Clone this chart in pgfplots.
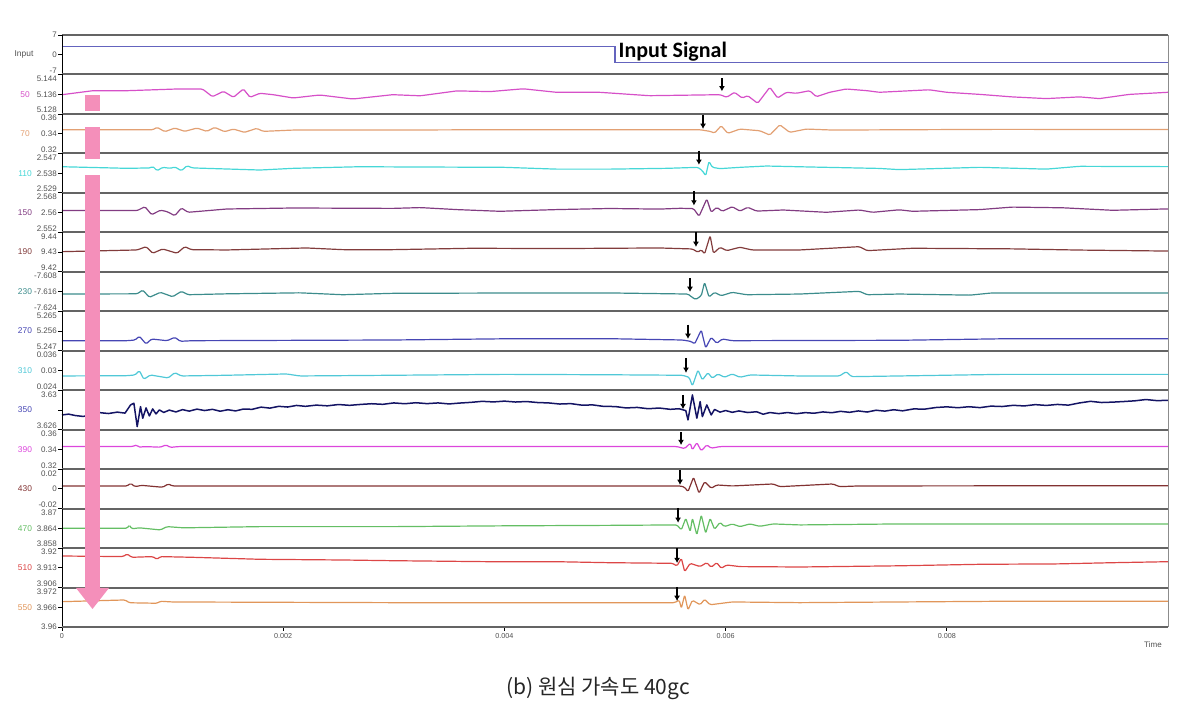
\documentclass[border=0pt]{standalone}
\usepackage{pgfplots}
\pgfplotsset{compat=1.18}
\usepackage{pgfplotstable}
\usetikzlibrary{arrows.meta}
\usepackage{fontspec}
\setmainfont{Liberation Sans}
\newfontfamily\cjk{Noto Sans CJK KR}
\newfontfamily\carl{Carlito}

\definecolor{cIn}{RGB}{100,100,190}
\definecolor{cA}{RGB}{214,80,200}
\definecolor{cB}{RGB}{226,160,115}
\definecolor{cC}{RGB}{70,215,215}
\definecolor{cD}{RGB}{130,60,130}
\definecolor{cE}{RGB}{130,60,60}
\definecolor{cF}{RGB}{60,140,140}
\definecolor{cG}{RGB}{70,70,180}
\definecolor{cH}{RGB}{80,200,215}
\definecolor{cI}{RGB}{20,20,100}
\definecolor{cJ}{RGB}{220,70,220}
\definecolor{cK}{RGB}{130,50,50}
\definecolor{cL}{RGB}{100,190,100}
\definecolor{cM}{RGB}{220,70,70}
\definecolor{cN}{RGB}{225,150,90}
\definecolor{pinkarrow}{RGB}{244,143,186}
\definecolor{sepgray}{RGB}{100,100,100}
\definecolor{labgray}{RGB}{80,80,80}

\newcommand\tl[1]{\raisebox{-3.45pt}[0pt][0pt]{#1}}
\newcommand\ml[1]{\raisebox{-1.45pt}[0pt][0pt]{#1}}
\newcommand\bl[1]{\raisebox{0.55pt}[0pt][0pt]{#1}}

\newcommand\panelframe{%
  \draw[sepgray, line width=1pt] (rel axis cs:0,1) -- (rel axis cs:1,1);
  \draw[black, line width=0.4pt] (rel axis cs:0,0) -- (rel axis cs:0,1);
  \draw[black!45, line width=0.5pt] (rel axis cs:1,0) -- (rel axis cs:1,1);}
\newcommand\marker[3]{\draw[-{Latex[length=2.6pt,width=3pt]}, line width=0.6pt] (rel axis cs:#1,#2) -- (rel axis cs:#1,#3);}
\newcommand\chan[2]{\node[text=#1, font=\fontsize{4.2}{5}\selectfont, xshift=-18.5pt] at (rel axis cs:0,0.5) {#2};}

\pgfplotsset{
  panel/.style={
    scale only axis, width=553pt, height=19.7333pt, anchor=north west,
    xmin=0, xmax=0.01, clip=false,
    axis line style={draw=none},
    xtick=\empty, ytick pos=left, tick align=outside,
    major tick length=1.8pt,
    tick style={black, line width=0.4pt},
    yticklabel style={font=\fontsize{4}{4}\selectfont, text=labgray, inner sep=0.6pt},
    scaled y ticks=false, scaled x ticks=false,
  },
  sig/.style={line width=0.6pt, line join=round, rounded corners=0.7pt},
}

\pgfplotstableread{
t v
0 2.8
5.0 2.8
5.0 -2.8
10 -2.8
}\tIn

\pgfplotstableread{
t d
0 -0.5
0.28 3.5
0.59 3.5
1.04 5.2
1.27 5.2
1.36 -2.5
1.46 2.9
1.55 -3.1
1.64 5.2
1.70 -3.1
1.79 0.9
1.91 -0.5
2.09 -3.8
2.33 -0.8
2.63 -4.8
2.99 -0.5
3.24 -1.6
3.57 3.3
3.87 2.6
4.17 5.4
4.47 1.9
4.86 1.9
5.31 -1.5
5.95 -0.5
6.01 -3.1
6.08 1.9
6.15 -3.8
6.20 -1.5
6.29 -9.1
6.40 6.9
6.47 -3.8
6.55 1.9
6.64 0.9
6.76 3.5
6.82 -2.5
6.94 1.9
7.09 5.2
7.28 3.5
7.39 1.9
7.84 4.4
8.00 1.9
8.30 -0.2
8.59 -2.7
8.90 -4.4
9.20 -2.7
9.38 -4.4
9.65 -0.2
10.00 1.9
}\tA

\pgfplotstableread{
t d
0 3.9
0.82 3.9
0.86 6.3
0.93 2.0
1.02 5.6
1.11 2.3
1.22 5.6
1.31 2.3
1.38 6.3
1.47 2.0
1.55 4.6
1.65 1.3
1.76 5.3
1.82 2.3
2.09 3.6
2.99 3.6
4.00 4.0
5.47 3.9
5.77 3.9
5.86 2.3
5.90 0.6
5.96 7.9
6.02 0.3
6.13 4.6
6.31 2.9
6.40 -1.4
6.49 8.9
6.58 1.3
6.73 4.6
6.97 3.6
7.57 3.9
8.50 4.3
10.00 4.1
}\tB

\pgfplotstableread{
t d
0 6.4
0.59 4.8
0.80 5.2
0.82 6.8
0.86 2.4
0.91 5.8
0.98 4.8
1.02 6.2
1.08 2.4
1.13 7.4
1.18 5.2
1.79 3.1
2.09 4.8
2.69 6.4
3.05 6.2
4.00 5.8
4.47 4.0
4.95 4.0
5.47 4.8
5.75 5.8
5.79 2.4
5.82 -2.6
5.85 11.8
5.88 5.8
5.95 4.5
6.13 5.8
6.37 7.1
6.82 6.0
7.39 4.7
7.57 3.5
8.30 5.8
8.90 4.0
9.20 6.8
10.00 6.5
}\tC

\pgfplotstableread{
t d
0 2.0
0.68 2.0
0.75 5.9
0.81 -2.1
0.89 2.4
0.95 1.0
1.02 -3.1
1.08 4.6
1.14 0.3
1.49 3.6
2.09 4.6
2.99 4.2
3.24 5.0
3.57 3.0
3.96 1.3
4.47 3.0
4.95 4.1
5.40 3.5
5.59 4.3
5.71 4.0
5.76 -3.7
5.83 13.6
5.87 0.3
5.92 5.3
5.97 1.3
6.06 5.9
6.13 1.5
6.20 5.3
6.28 1.5
6.52 2.6
6.91 0.3
7.21 2.6
7.33 0.3
7.57 2.8
7.69 1.3
8.30 3.0
8.59 5.5
9.05 4.8
9.50 2.3
10.00 3.7
}\tD

\pgfplotstableread{
t d
0 0.4
0.68 2.1
0.76 5.4
0.82 -1.2
0.91 3.1
1.04 -1.2
1.11 5.4
1.17 2.4
1.49 2.1
2.21 4.1
2.54 2.4
2.99 2.4
3.71 3.8
4.47 3.5
4.95 3.8
5.40 4.1
5.70 3.1
5.75 -0.2
5.78 2.4
5.81 -1.9
5.86 16.4
5.89 -1.2
5.95 4.8
6.01 1.4
6.13 4.8
6.24 2.1
6.67 2.1
7.21 5.4
7.28 1.4
7.57 3.1
7.69 3.8
8.59 3.2
9.20 2.0
10.00 1.0
}\tE

\pgfplotstableread{
t d
0 -2.5
0.68 -2.3
0.73 1.5
0.79 -5.8
0.89 -0.8
1.00 -5.2
1.08 0.2
1.14 -3.2
1.49 -2.3
2.15 -1.3
2.54 -3.2
2.99 -1.8
4.00 -1.5
5.00 -1.5
5.66 -2.5
5.69 -5.2
5.73 -8.0
5.78 -4.2
5.81 9.2
5.85 -5.5
5.90 -0.8
5.96 -4.2
6.06 -0.8
6.19 -3.2
6.67 -2.5
7.21 0.2
7.28 -3.2
7.57 -2.5
8.21 -3.6
8.40 -1.5
10.00 -1.5
}\tF

\pgfplotstableread{
t d
0 -9.7
0.59 -9.7
0.66 -9.0
0.70 -5.3
0.76 -13.0
0.81 -8.0
0.95 -9.7
1.02 -6.3
1.07 -10.3
1.18 -9.7
2.99 -9.0
4.00 -7.8
5.00 -7.8
5.61 -9.0
5.69 -10.5
5.72 -13.0
5.78 1.0
5.82 -17.0
5.87 -6.3
5.92 -12.3
5.97 -8.0
6.06 -9.7
7.57 -9.3
8.50 -7.8
10.00 -7.8
}\tG

\pgfplotstableread{
t d
0 -5.5
0.59 -5.2
0.66 -4.5
0.70 -0.2
0.74 -8.8
0.80 -4.5
0.89 -6.2
0.96 -7.5
1.02 -2.2
1.08 -5.5
1.49 -4.8
2.03 -3.5
2.15 -5.5
2.99 -4.8
4.00 -3.9
4.95 -4.3
5.61 -4.8
5.67 -6.8
5.70 -15.5
5.75 0.5
5.79 -9.5
5.84 -2.2
5.88 -7.8
5.93 -3.5
5.99 -6.8
6.06 -3.5
6.13 -6.8
6.22 -4.5
6.67 -5.5
7.03 -5.5
7.09 -1.2
7.14 -6.2
7.57 -5.5
8.50 -3.9
10.00 -3.9
}\tH

\pgfplotstableread{
t d
0.00 -5.0
0.06 -4.2
0.12 -5.6
0.19 -6.5
0.26 -5.2
0.34 -2.7
0.42 -3.6
0.50 -2.2
0.57 -3.2
0.62 5.0
0.65 6.7
0.68 -16.7
0.71 3.3
0.73 -8.3
0.76 2.0
0.79 -6.0
0.82 1.0
0.85 -4.0
0.88 0.0
0.92 -2.5
0.97 -0.2
1.03 -2.0
1.09 0.3
1.15 -1.2
1.22 0.8
1.29 -0.6
1.36 0.6
1.43 -1.3
1.50 0.2
1.57 -1.0
1.64 0.9
1.72 0.6
1.80 2.8
1.88 1.8
1.96 3.6
2.04 2.9
2.12 4.5
2.20 3.6
2.30 4.8
2.40 4.1
2.50 5.4
2.60 4.6
2.70 5.5
2.80 6.2
2.90 5.6
3.00 7.0
3.10 6.2
3.20 7.2
3.30 6.3
3.40 7.0
3.50 6.0
3.60 6.9
3.70 7.6
3.80 8.6
3.90 8.0
4.00 8.8
4.10 7.9
4.20 8.4
4.30 7.4
4.40 7.0
4.50 5.9
4.60 6.3
4.70 4.8
4.80 5.0
4.90 3.5
5.00 3.4
5.10 2.0
5.20 2.5
5.30 1.2
5.40 1.9
5.50 0.6
5.58 1.2
5.64 -0.7
5.66 -10.0
5.70 15.0
5.74 -8.3
5.77 8.3
5.79 -6.7
5.83 5.0
5.87 -5.0
5.90 0.5
5.95 -2.2
6.00 -0.6
6.06 -2.4
6.12 -1.0
6.20 -2.6
6.28 -1.8
6.34 -4.3
6.40 -2.6
6.48 -3.7
6.56 -2.6
6.64 -3.8
6.72 -2.7
6.80 -3.3
6.88 -2.0
6.96 -2.8
7.04 -1.4
7.12 -2.4
7.20 -1.0
7.28 -2.1
7.36 -0.3
7.44 -1.2
7.52 0.2
7.60 -0.9
7.70 1.0
7.80 0.8
7.90 2.4
8.00 3.1
8.10 2.2
8.20 3.2
8.30 2.3
8.40 3.8
8.50 3.4
8.60 4.6
8.70 4.0
8.80 5.3
8.90 4.5
9.00 5.5
9.10 4.8
9.20 7.0
9.30 8.6
9.40 7.4
9.50 7.8
9.60 8.4
9.70 9.1
9.80 10.4
9.90 9.3
10.00 9.6
}\tI

\pgfplotstableread{
t d
0 2.8
0.63 2.8
0.68 4.5
0.69 2.2
0.75 2.8
0.89 2.2
0.94 4.5
0.98 2.0
1.05 2.8
5.56 2.8
5.63 0.8
5.68 6.2
5.70 -0.5
5.74 6.8
5.78 -1.5
5.83 4.5
5.87 1.2
5.95 2.8
10.00 2.8
}\tJ

\pgfplotstableread{
t d
0 2.9
0.59 2.9
0.62 5.6
0.66 2.2
0.72 3.5
0.91 1.6
0.96 4.9
1.00 2.9
5.59 2.9
5.63 1.6
5.66 -2.8
5.71 11.6
5.76 -4.4
5.81 7.2
5.87 0.6
5.92 3.9
6.06 2.9
6.43 4.9
6.49 2.2
6.97 4.9
7.03 2.2
7.20 2.9
10.00 3.2
}\tK

\pgfplotstableread{
t d
0 0.1
0.59 0.1
0.61 3.4
0.63 -0.5
0.70 0.5
0.89 -1.6
0.95 1.7
1.10 0.5
1.79 1.7
3.00 1.7
4.00 2.5
5.00 3.0
5.56 3.4
5.60 -1.6
5.64 10.1
5.68 -3.3
5.70 10.1
5.74 -6.6
5.78 13.4
5.82 -5.0
5.86 10.1
5.90 -1.0
5.95 6.0
5.99 1.7
6.06 4.4
6.13 1.7
6.22 4.4
6.31 2.0
6.43 4.4
6.67 3.4
7.57 4.4
10.00 4.4
}\tL

\pgfplotstableread{
t d
0 11.8
0.55 11.2
0.59 13.8
0.63 10.5
0.82 11.2
0.86 8.5
0.89 11.2
1.18 10.5
1.79 8.5
2.54 7.8
2.99 7.1
3.87 6.1
4.47 6.1
4.95 5.1
5.52 4.5
5.56 1.8
5.60 9.5
5.63 -3.9
5.68 4.5
5.77 1.2
5.83 5.2
5.87 0.5
5.92 5.2
5.96 -0.5
6.01 2.8
6.13 1.2
6.67 0.8
7.57 2.0
8.30 3.5
9.00 3.9
9.50 5.1
10.00 6.1
}\tM

\pgfplotstableread{
t d
0 5.6
0.57 7.3
0.61 4.5
0.86 4.0
0.89 6.0
1.00 5.3
2.99 4.6
5.54 4.6
5.58 7.3
5.60 -1.0
5.63 12.3
5.66 -2.7
5.70 7.0
5.77 2.5
5.81 8.0
5.86 2.5
6.06 5.3
6.67 4.6
7.57 5.3
8.50 6.0
10.00 6.0
}\tN

\begin{document}
\begin{tikzpicture}
\path[use as bounding box] (0,0) rectangle (598pt,-352.5pt);

% Input
\begin{axis}[panel, at={(31pt,-17.5pt)}, ymin=-7, ymax=7, ytick={-7,0,7}, yticklabels={\bl{-7},\ml{0},\ml{7}}]
\addplot[cIn, line width=0.6pt] table[x expr=\thisrow{t}/1000, y=v] {\tIn};
\panelframe
\node[font=\fontsize{4.2}{5}\selectfont, text=labgray, xshift=-19pt] at (rel axis cs:0,0.5) {Input};
\node[anchor=base west, inner sep=0pt, font=\carl\bfseries\fontsize{11}{12}\selectfont] at (rel axis cs:0.503,0.42) {Input Signal};
\end{axis}

% 50
\begin{axis}[panel, at={(31pt,-37.2333pt)}, ymin=5.128, ymax=5.144, ytick={5.128,5.136,5.144}, yticklabels={\bl{5.128},\ml{5.136},\tl{5.144}}]
\addplot[cA, sig] table[x expr=\thisrow{t}/1000, y expr=5.136+\thisrow{d}*0.0004054] {\tA};
\panelframe
\chan{cA}{50}
\marker{0.5967}{0.91}{0.573}
\end{axis}

% 70
\begin{axis}[panel, at={(31pt,-56.9667pt)}, ymin=0.32, ymax=0.36, ytick={0.32,0.34,0.36}, yticklabels={\bl{0.32},\ml{0.34},\tl{0.36}}]
\addplot[cB, sig] table[x expr=\thisrow{t}/1000, y expr=0.34+\thisrow{d}*0.0010135] {\tB};
\panelframe
\chan{cB}{70}
\marker{0.5796}{0.98}{0.62}
\end{axis}

% 110
\begin{axis}[panel, at={(31pt,-76.7pt)}, ymin=2.529, ymax=2.547, ytick={2.529,2.538,2.547}, yticklabels={\bl{2.529},\ml{2.538},\tl{2.547}}]
\addplot[cC, sig] table[x expr=\thisrow{t}/1000, y expr=2.538+\thisrow{d}*0.0004561] {\tC};
\panelframe
\chan{cC}{110}
\marker{0.5759}{1.07}{0.71}
\end{axis}

% 150
\begin{axis}[panel, at={(31pt,-96.4333pt)}, ymin=2.552, ymax=2.568, ytick={2.552,2.56,2.568}, yticklabels={\bl{2.552},\ml{2.56},\tl{2.568}}]
\addplot[cD, sig] table[x expr=\thisrow{t}/1000, y expr=2.56+\thisrow{d}*0.0004054] {\tD};
\panelframe
\chan{cD}{150}
\marker{0.5714}{1.05}{0.68}
\end{axis}

% 190
\begin{axis}[panel, at={(31pt,-116.1667pt)}, ymin=9.42, ymax=9.44, ytick={9.42,9.43,9.44}, yticklabels={\bl{9.42},\ml{9.43},\tl{9.44}}]
\addplot[cE, sig] table[x expr=\thisrow{t}/1000, y expr=9.43+\thisrow{d}*0.0005068] {\tE};
\panelframe
\chan{cE}{190}
\marker{0.5732}{1.01}{0.63}
\end{axis}

% 230
\begin{axis}[panel, at={(31pt,-135.9pt)}, ymin=-7.624, ymax=-7.608, ytick={-7.624,-7.616,-7.608}, yticklabels={\bl{-7.624},\ml{-7.616},\tl{-7.608}}]
\addplot[cF, sig] table[x expr=\thisrow{t}/1000, y expr=-7.616+\thisrow{d}*0.0004054] {\tF};
\panelframe
\chan{cF}{230}
\marker{0.5678}{0.84}{0.49}
\end{axis}

% 270
\begin{axis}[panel, at={(31pt,-155.6333pt)}, ymin=5.247, ymax=5.265, ytick={5.247,5.256,5.265}, yticklabels={\bl{5.247},\ml{5.256},\tl{5.265}}]
\addplot[cG, sig] table[x expr=\thisrow{t}/1000, y expr=5.256+\thisrow{d}*0.0004561] {\tG};
\panelframe
\chan{cG}{270}
\marker{0.5660}{0.66}{0.30}
\end{axis}

% 310
\begin{axis}[panel, at={(31pt,-175.3667pt)}, ymin=0.024, ymax=0.036, ytick={0.024,0.03,0.036}, yticklabels={\bl{0.024},\ml{0.03},\tl{0.036}}]
\addplot[cH, sig] table[x expr=\thisrow{t}/1000, y expr=0.03+\thisrow{d}*0.0003041] {\tH};
\panelframe
\chan{cH}{310}
\marker{0.5642}{0.82}{0.44}
\end{axis}

% 350
\begin{axis}[panel, at={(31pt,-195.1pt)}, ymin=3.626, ymax=3.63, ytick={3.626,3.628,3.63}, yticklabels={\bl{3.626},{},\tl{3.63}}]
\addplot[cI, line width=0.75pt, line join=round] table[x expr=\thisrow{t}/1000, y expr=3.628+\thisrow{d}*0.00010135] {\tI};
\panelframe
\chan{cG}{350}
\marker{0.5615}{0.88}{0.52}
\end{axis}

% 390
\begin{axis}[panel, at={(31pt,-214.8333pt)}, ymin=0.32, ymax=0.36, ytick={0.32,0.34,0.36}, yticklabels={\bl{0.32},\ml{0.34},\tl{0.36}}]
\addplot[cJ, sig] table[x expr=\thisrow{t}/1000, y expr=0.34+\thisrow{d}*0.0010135] {\tJ};
\panelframe
\chan{cJ}{390}
\marker{0.5597}{0.94}{0.61}
\end{axis}

% 430
\begin{axis}[panel, at={(31pt,-234.5667pt)}, ymin=-0.02, ymax=0.02, ytick={-0.02,0,0.02}, yticklabels={\bl{-0.02},\ml{0},\tl{0.02}}]
\addplot[cK, sig] table[x expr=\thisrow{t}/1000, y expr=\thisrow{d}*0.0010135] {\tK};
\panelframe
\chan{cK}{430}
\marker{0.5588}{0.98}{0.60}
\end{axis}

% 470
\begin{axis}[panel, at={(31pt,-254.3pt)}, ymin=3.858, ymax=3.87, ytick={3.858,3.864,3.87}, yticklabels={\bl{3.858},\ml{3.864},\tl{3.87}}]
\addplot[cL, sig] table[x expr=\thisrow{t}/1000, y expr=3.864+\thisrow{d}*0.0003041] {\tL};
\panelframe
\chan{cL}{470}
\marker{0.5570}{1.02}{0.64}
\end{axis}

% 510
\begin{axis}[panel, at={(31pt,-274.0333pt)}, ymin=3.906, ymax=3.92, ytick={3.906,3.913,3.92}, yticklabels={\bl{3.906},\ml{3.913},\tl{3.92}}]
\addplot[cM, sig] table[x expr=\thisrow{t}/1000, y expr=3.913+\thisrow{d}*0.0003547] {\tM};
\panelframe
\chan{cM}{510}
\marker{0.5561}{1.00}{0.62}
\end{axis}

% 550
\begin{axis}[panel, at={(31pt,-293.7667pt)}, ymin=3.96, ymax=3.972, ytick={3.96,3.966,3.972}, yticklabels={\ml{3.96},\ml{3.966},\tl{3.972}},
  xtick={0,0.002,0.004,0.006,0.008}, xticklabels={0,0.002,0.004,0.006,0.008}, xtick pos=bottom,
  xticklabel style={font=\fontsize{3.6}{4}\selectfont, text=labgray, inner sep=1pt}]
\addplot[cN, sig] table[x expr=\thisrow{t}/1000, y expr=3.966+\thisrow{d}*0.0003041] {\tN};
\panelframe
\draw[sepgray, line width=1pt] (rel axis cs:0,0) -- (rel axis cs:1,0);
\chan{cN}{550}
\marker{0.5561}{1.01}{0.66}
\node[font=\fontsize{4}{5}\selectfont, text=labgray, yshift=-9pt] at (rel axis cs:0.9864,0) {Time};
\end{axis}

% pink arrow
\fill[pinkarrow] (42.5pt,-47.75pt) rectangle (50pt,-55.5pt);
\fill[pinkarrow] (42.5pt,-63.75pt) rectangle (50pt,-79.75pt);
\fill[pinkarrow] (42.5pt,-87.75pt) rectangle (50pt,-294.5pt);
\fill[pinkarrow] (38pt,-294pt) -- (54.5pt,-294pt) -- (46.25pt,-304.5pt) -- cycle;

% caption
\node[font=\cjk\fontsize{10.5}{12}\selectfont, text=black!85] at (299pt,-344pt) {(b) 원심 가속도 40gc};
\end{tikzpicture}
\end{document}
